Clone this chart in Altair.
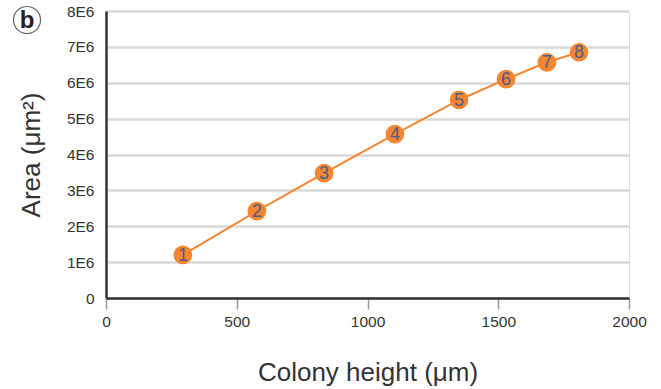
import altair as alt
import pandas as pd

point_ids = [1, 2, 3, 4, 5, 6, 7, 8]
colony_height = [294, 577, 834, 1105, 1350, 1530, 1686, 1809]
area = [1.20e6, 2.42e6, 3.48e6, 4.57e6, 5.52e6, 6.10e6, 6.57e6, 6.85e6]
x_ticks = [0, 500, 1000, 1500, 2000]
y_ticks = [0, 1e6, 2e6, 3e6, 4e6, 5e6, 6e6, 7e6, 8e6]

df = pd.DataFrame({"id": point_ids, "h": colony_height, "a": area})

FONT = "Liberation Sans"
ORANGE = "#f5862f"
TXT = "#333333"

x = alt.X("h:Q", scale=alt.Scale(domain=[0, 2000], nice=False),
          axis=alt.Axis(values=x_ticks, format="d", title="Colony height (μm)", grid=False,
                        domainColor=TXT, domainWidth=2.5, tickColor="#9a9a9a",
                        tickWidth=1.5, tickSize=11, labelPadding=5, labelFontSize=15.5,
                        labelColor=TXT, labelFont=FONT, labelFlush=False,
                        labelOverlap=False, tickCount=20, titleFont=FONT,
                        titleFontSize=26, titleFontWeight="normal", titleColor=TXT,
                        titlePadding=30))
y = alt.Y("a:Q", scale=alt.Scale(domain=[0, 8e6], nice=False),
          axis=alt.Axis(values=y_ticks, tickCount=20, title="Area (μm²)", grid=True,
                        gridColor="#d9d9d9", gridWidth=2.5, domainColor=TXT,
                        domainWidth=2.5, ticks=False, labelPadding=12,
                        labelFontSize=15.5, labelColor=TXT, labelFont=FONT,
                        labelOverlap=False, labelFlush=False,
                        labelExpr="datum.value == 0 ? '0' : round(datum.value / 1000000) + 'E6'",
                        titleFont=FONT, titleFontSize=26, titleFontWeight="normal",
                        titleColor=TXT, titlePadding=22))

base = alt.Chart(df)
line = base.mark_line(color=ORANGE, strokeWidth=2).encode(x=x, y=y)
pts = base.mark_circle(size=350, color=ORANGE, opacity=1).encode(x="h:Q", y="a:Q")
labels = base.mark_text(font=FONT, fontSize=18, color="#4b5d8e",
                        baseline="middle", align="center", dy=1).encode(
    x="h:Q", y="a:Q", text="id:N")

panel_circle = alt.Chart(pd.DataFrame({"t": ["b"]})).mark_point(
    shape="circle", size=730, filled=False, color="#222222", strokeWidth=1.2
).encode(x=alt.value(-79), y=alt.value(9))
panel_text = alt.Chart(pd.DataFrame({"t": ["b"]})).mark_text(
    font=FONT, fontSize=24, fontWeight="bold", color="#222222",
    baseline="middle", align="center", dy=1
).encode(x=alt.value(-79), y=alt.value(9), text="t:N")

chart = alt.layer(line, pts, labels, panel_circle, panel_text).properties(
    width=523, height=287,
    autosize=alt.AutoSizeParams(type="none"),
    padding={"left": 106, "top": 11, "right": 32, "bottom": 91},
).configure_view(stroke=None).configure(background="white")

chart.save("out.html", embed_options={"renderer": "svg", "actions": False})
